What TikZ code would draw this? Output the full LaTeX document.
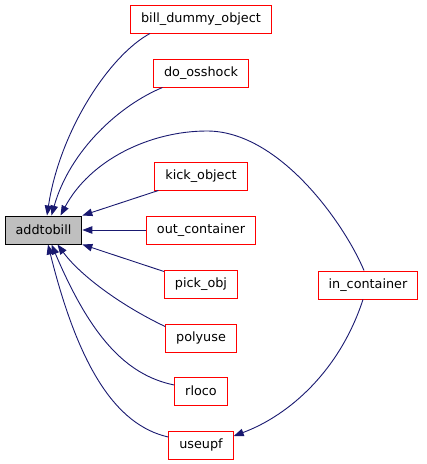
\documentclass[tikz,border=0pt]{standalone}
\usepackage{fontspec}
\setmainfont{DejaVu Sans}
\usetikzlibrary{arrows.meta}
\definecolor{callred}{HTML}{FF0000}
\definecolor{callblue}{HTML}{191970}
\definecolor{callgray}{HTML}{BFBFBF}

\begin{document}
\begin{tikzpicture}[x=1pt, y=-1pt,
    every node/.style={font=\fontsize{12.8}{15}\selectfont},
    fnbox/.style={draw=callred, fill=white, line width=1pt, minimum height=28pt, inner xsep=10.5pt},
    callarrow/.style={callblue, line width=0.9pt, -{Triangle[length=10pt,width=7.5pt]}}]
  \useasboundingbox (0,0) rectangle (427,464);
  % the function itself
  \node[fnbox, draw=black, fill=callgray] (addtobill) at (43.5,230) {addtobill};
  % its callers, one column
  \foreach \n/\t/\y in {bill/bill\_dummy\_object/19, osshock/do\_osshock/73,
      kick/kick\_object/176, outc/out\_container/230, pick/pick\_obj/284,
      poly/polyuse/338, rloco/rloco/391, useupf/useupf/445}
    \node[fnbox] (\n) at (201,\y) {\t};
  \node[fnbox] (inc) at (368,285) {in\_container};
  % curved edges into the top of the box
  \draw[callarrow] ([xshift=-51pt]bill.south) .. controls (110,55) and (60,130) .. ([xshift=3.5pt]addtobill.north);
  \draw[callarrow] ([xshift=-38.5pt]osshock.south) .. controls (120,105) and (70,150) .. ([xshift=8pt]addtobill.north);
  \draw[callarrow] ([xshift=-4pt]inc.north) .. controls (345,225) and (280,131) .. (207,131)
    .. controls (150,131) and (90,160) .. ([xshift=17pt]addtobill.north);
  % straight ones
  \draw[callarrow] ([xshift=4pt]kick.south west) -- (addtobill.north east);
  \draw[callarrow] (outc) -- (addtobill);
  \draw[callarrow] ([yshift=-2pt]pick.north west) -- (addtobill.south east);
  % curved edges into the bottom
  \draw[callarrow] ([yshift=-3pt]poly.north west) .. controls (120,305) and (80,275) .. ([xshift=14pt]addtobill.south);
  \draw[callarrow] ([yshift=6pt]rloco.west) .. controls (125,375) and (90,335) .. ([xshift=8pt]addtobill.south);
  \draw[callarrow] ([yshift=8pt]useupf.west) .. controls (115,425) and (78,365) .. ([xshift=4.5pt]addtobill.south);
  \draw[callarrow] ([xshift=-5pt]inc.south) .. controls (340,370) and (290,415) .. ([yshift=9pt]useupf.east);
\end{tikzpicture}
\end{document}
